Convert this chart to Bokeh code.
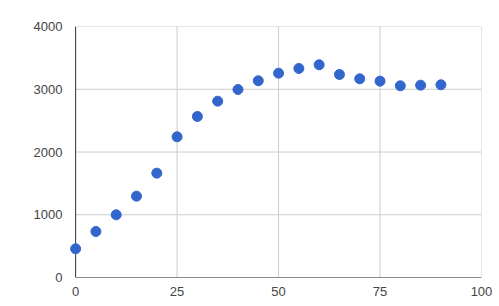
from bokeh.plotting import figure
from bokeh.models import FixedTicker, Range1d
from bokeh.embed import file_html
from bokeh.resources import INLINE

x_vals = [0, 5, 10, 15, 20, 25, 30, 35, 40, 45, 50, 55, 60, 65, 70, 75, 80, 85, 90]
y_vals = [457, 733, 999, 1296, 1663, 2242, 2566, 2810, 2996, 3135, 3256, 3331, 3390,
          3235, 3166, 3129, 3055, 3065, 3071]
x_ticks = [0, 25, 50, 75, 100]
y_ticks = [0, 1000, 2000, 3000, 4000]

x_min, x_max = x_ticks[0], x_ticks[-1]
y_min, y_max = y_ticks[0], y_ticks[-1]

p = figure(width=499, height=306, output_backend="svg", toolbar_location=None,
           x_range=Range1d(x_min - 2, x_max), y_range=Range1d(y_min, y_max),
           min_border_left=67, min_border_right=18, min_border_top=26, min_border_bottom=29)
p.outline_line_color = None
p.background_fill_color = "white"
p.border_fill_color = "white"

# horizontal gridlines only over the data area
p.segment(x0=[x_min] * len(y_ticks), x1=[x_max] * len(y_ticks), y0=y_ticks, y1=y_ticks,
          line_color="#cccccc", line_width=1)
# vertical gridlines
p.segment(x0=x_ticks[1:], x1=x_ticks[1:], y0=[y_min] * (len(x_ticks) - 1),
          y1=[y_max] * (len(x_ticks) - 1), line_color="#cccccc", line_width=1)
# axis lines
p.segment(x0=[x_min, x_min], x1=[x_min, x_max], y0=[y_min, y_min], y1=[y_max, y_min],
          line_color="#333333", line_width=1)

p.scatter(x_vals, y_vals, size=10, fill_color="#3366cc", line_color="#3366cc")

for ax, ticks in ((p.xaxis[0], x_ticks), (p.yaxis[0], y_ticks)):
    ax.ticker = FixedTicker(ticks=ticks)
    ax.major_tick_line_color = None
    ax.minor_tick_line_color = None
    ax.major_tick_out = 0
    ax.major_tick_in = 0
    ax.axis_line_color = None
    ax.major_label_text_font = "Liberation Sans"
    ax.major_label_text_font_size = "13px"
    ax.major_label_text_color = "#444444"

p.xaxis.major_label_standoff = 9
p.yaxis.major_label_standoff = 5

p.grid.visible = False

open("out.html", "w").write(file_html(p, INLINE))
